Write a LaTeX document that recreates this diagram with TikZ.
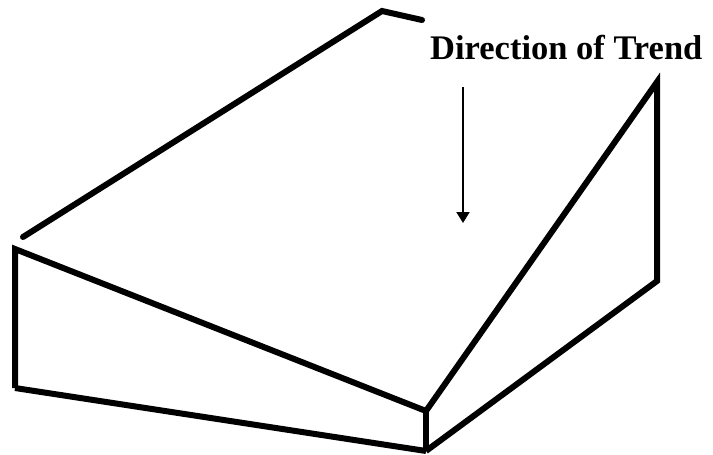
\documentclass[tikz,border=0pt]{standalone}
\usepackage{fontspec}
\setmainfont{Liberation Serif}
\usetikzlibrary{arrows.meta}

\begin{document}
\begin{tikzpicture}[
  x=1pt, y=-1pt,
  edge/.style={line width=6pt, line join=miter},
  ridge/.style={line width=6pt, line cap=round},
  trend/.style={-{Triangle[length=11pt, width=13pt]}, line width=2pt},
  label/.style={font=\fontsize{34.5}{38}\selectfont\bfseries, inner sep=0pt}
]
\useasboundingbox (0,0) rectangle (713,455);

% corners of the block
\coordinate (rl) at (23,237);
\coordinate (rp) at (382,11);
\coordinate (rr) at (422,20);
\coordinate (a) at (15,249);
\coordinate (b) at (15,388);
\coordinate (c) at (426,411);
\coordinate (d) at (426,451);
\coordinate (e) at (657,82);
\coordinate (f) at (657,281);

\draw[ridge] (rl) -- (rp) -- (rr);
\draw[edge] (b) -- (a) -- (c);
\draw[edge] (b) -- (d);
\draw[edge] (c) -- (d);
\draw[edge] (c) -- (e) -- (f) -- (d);

\node[label, anchor=base west] (dir) at (430,59) {Direction of Trend};
\coordinate (tail) at (463,87);
\coordinate (tip) at (463,223);
\draw[trend] (tail) -- (tip);
\end{tikzpicture}
\end{document}
